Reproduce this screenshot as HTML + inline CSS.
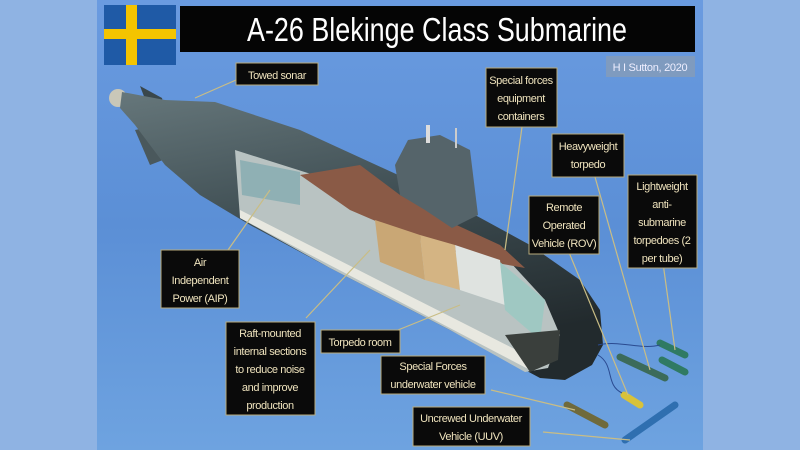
<!DOCTYPE html>
<html><head><meta charset="utf-8"><style>
html,body{margin:0;padding:0;}
body{width:800px;height:450px;overflow:hidden;background:#8fb3e3;font-family:"Liberation Sans",sans-serif;}
svg{display:block}
.lb{fill:#0a0a0a;stroke:#b8ab7c;stroke-width:1}
.t{fill:#efe3bd;font-family:"Liberation Sans",sans-serif;font-size:11px;letter-spacing:-0.4px;text-anchor:middle}
.ld{stroke:#c9bd85;stroke-width:1.2;fill:none}
</style></head><body>
<svg width="800" height="450" viewBox="0 0 800 450">
<defs>
<linearGradient id="bg" x1="0" y1="0" x2="0" y2="1">
<stop offset="0" stop-color="#6a9be0"/><stop offset="0.5" stop-color="#5b8fd6"/><stop offset="1" stop-color="#6ea3e0"/></linearGradient>
<linearGradient id="hull" x1="0" y1="0" x2="0.3" y2="1">
<stop offset="0" stop-color="#66777b"/><stop offset="0.5" stop-color="#3e4d52"/><stop offset="1" stop-color="#222a2d"/></linearGradient>
</defs>
<rect x="0" y="0" width="800" height="450" fill="#8fb3e3"/>
<rect x="97" y="0" width="606" height="450" fill="url(#bg)"/>
<rect x="104" y="5" width="72" height="60" fill="#1f5aa6"/>
<rect x="126" y="5" width="11" height="60" fill="#f4c400"/>
<rect x="104" y="29" width="72" height="10" fill="#f4c400"/>
<rect x="180" y="6" width="515" height="46" fill="#050505"/>
<text x="437" y="41" fill="#fff" font-size="33" text-anchor="middle" font-family="Liberation Sans" textLength="380" lengthAdjust="spacingAndGlyphs">A-26 Blekinge Class Submarine</text>
<rect x="606" y="56" width="89" height="21" fill="#7f9bbf"/>
<text x="650" y="71" fill="#eef" font-size="11" text-anchor="middle" letter-spacing="-0.3">H I Sutton, 2020</text>
<!-- submarine -->
<polygon points="135,130 150,165 168,158 158,125" fill="#4a585c"/>
<polygon points="140,86 162,98 168,125 150,112" fill="#3a474b"/>
<circle cx="118" cy="98" r="9" fill="#c9c7b8"/>
<polygon points="122,92 165,100 215,102 300,130 420,185 530,245 580,280 600,310 603,345 592,365 565,380 540,378 450,330 330,268 250,225 200,195 165,165 135,125 120,108" fill="url(#hull)"/>
<polygon points="235,150 330,180 420,215 510,262 545,300 560,335 548,368 525,372 450,330 330,268 240,218" fill="#b9c3c2"/>
<polygon points="300,175 360,165 400,195 450,222 500,245 525,268 480,260 420,240 350,210" fill="#8a5a46"/>
<polygon points="240,160 300,172 300,205 242,195" fill="#8fb0b4"/>
<polygon points="375,220 420,235 425,280 380,262" fill="#c9a775"/>
<polygon points="420,235 455,245 460,290 425,280" fill="#d4b483"/>
<polygon points="455,245 500,260 505,305 460,290" fill="#dfe3e0"/>
<polygon points="500,262 545,300 540,340 505,310" fill="#9fc8c2"/>
<polygon points="240,210 540,362 530,370 240,218" fill="#e8e8e0"/>
<polygon points="505,335 560,330 558,360 530,372" fill="#3a3f3c"/>
<polygon points="395,165 408,140 440,135 470,150 478,215 452,228 425,210 400,195" fill="#55646a"/>
<rect x="426" y="125" width="4" height="18" fill="#ddd"/>
<rect x="455" y="128" width="2" height="20" fill="#ccc"/>
<g stroke-width="7" stroke-linecap="round">
<line x1="620" y1="357" x2="665" y2="378" stroke="#3c6b5a"/>
<line x1="660" y1="343" x2="685" y2="355" stroke="#2f7a63"/>
<line x1="662" y1="360" x2="685" y2="372" stroke="#2f7a63"/>
<line x1="567" y1="405" x2="605" y2="425" stroke="#6f6a3c"/>
<line x1="625" y1="440" x2="675" y2="405" stroke="#2f6fb0"/>
<line x1="624" y1="395" x2="640" y2="405" stroke="#d8c23a"/>
</g>
<path d="M598,345 C620,340 640,350 660,345 M598,355 C615,365 605,385 622,393" stroke="#2a4a90" fill="none"/>
<path class="ld" d="M236,80 L195,98"/>
<path class="ld" d="M522,127 L505,250"/>
<path class="ld" d="M595,177 L650,370"/>
<path class="ld" d="M568,250 L628,395"/>
<path class="ld" d="M663,263 L675,350"/>
<path class="ld" d="M228,250 L270,190"/>
<path class="ld" d="M306,318 L370,250"/>
<path class="ld" d="M398,330 L460,305"/>
<path class="ld" d="M491,390 L575,410"/>
<path class="ld" d="M543,432 L630,440"/>
<rect class="lb" x="236" y="63" width="82" height="22"/><text class="t" x="277" y="79">Towed sonar</text>
<rect class="lb" x="486" y="68" width="71" height="59"/><text class="t" x="521" y="84">Special forces</text><text class="t" x="521" y="102">equipment</text><text class="t" x="521" y="120">containers</text>
<rect class="lb" x="552" y="134" width="72" height="43"/><text class="t" x="588" y="150">Heavyweight</text><text class="t" x="588" y="168">torpedo</text>
<rect class="lb" x="628" y="175" width="69" height="93"/><text class="t" x="662" y="190">Lightweight</text><text class="t" x="662" y="208">anti-</text><text class="t" x="662" y="226">submarine</text><text class="t" x="662" y="244">torpedoes (2</text><text class="t" x="662" y="262">per tube)</text>
<rect class="lb" x="529" y="196" width="70" height="58"/><text class="t" x="564" y="211">Remote</text><text class="t" x="564" y="229">Operated</text><text class="t" x="564" y="247">Vehicle (ROV)</text>
<rect class="lb" x="161" y="250" width="78" height="58"/><text class="t" x="200" y="266">Air</text><text class="t" x="200" y="284">Independent</text><text class="t" x="200" y="302">Power (AIP)</text>
<rect class="lb" x="226" y="322" width="89" height="93"/><text class="t" x="270" y="337">Raft-mounted</text><text class="t" x="270" y="355">internal sections</text><text class="t" x="270" y="373">to reduce noise</text><text class="t" x="270" y="391">and improve</text><text class="t" x="270" y="409">production</text>
<rect class="lb" x="321" y="330" width="79" height="23"/><text class="t" x="360" y="346">Torpedo room</text>
<rect class="lb" x="381" y="356" width="104" height="38"/><text class="t" x="433" y="370">Special Forces</text><text class="t" x="433" y="388">underwater vehicle</text>
<rect class="lb" x="413" y="407" width="117" height="39"/><text class="t" x="471" y="422">Uncrewed Underwater</text><text class="t" x="471" y="440">Vehicle (UUV)</text>
</svg>
</body></html>
